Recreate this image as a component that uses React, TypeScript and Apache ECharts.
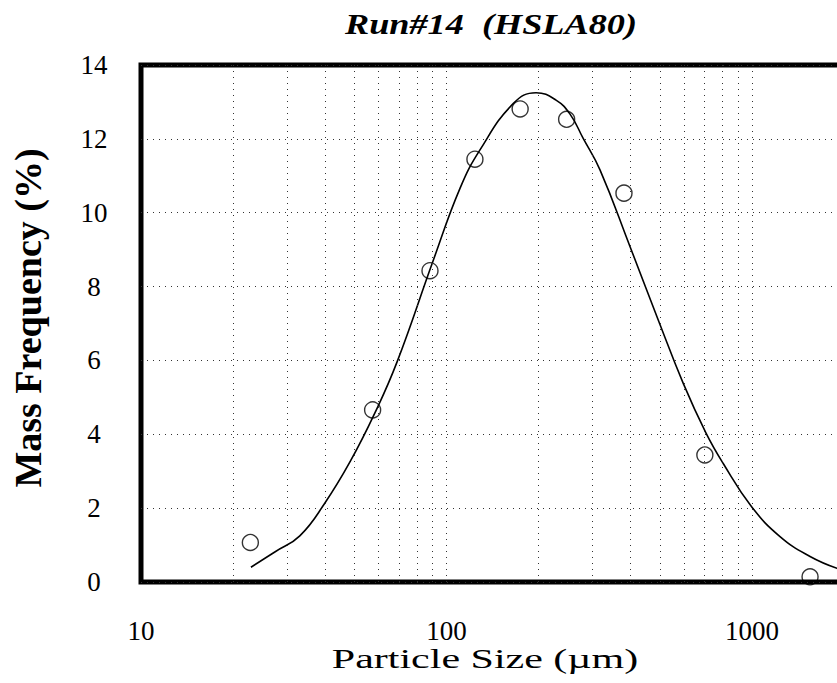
import React, { useEffect, useRef } from "react";
import * as echarts from "echarts";

// Fitted curve (particle size in µm, mass frequency in %)
const curveX = [22.9, 27.5, 33.1, 40.0, 48.3, 58.3, 68.9, 90.6, 110.7, 128.7, 165.6, 196.4, 228.3, 253.7, 279.9, 318.0, 398.9, 493.6, 595.6, 706.5, 805, 997, 1235, 1549, 1898, 2300];
const curveY = [0.4, 0.82, 1.25, 2.14, 3.25, 4.58, 5.96, 8.72, 10.66, 11.7, 12.96, 13.25, 13.05, 12.67, 12.02, 11.16, 9.08, 7.09, 5.38, 4.04, 3.21, 2.04, 1.23, 0.69, 0.37, 0.2];

// Measured points
const pointX = [22.8, 57.3, 88.3, 123.9, 174.2, 247.3, 381, 701, 1549];
const pointY = [1.07, 4.66, 8.43, 11.45, 12.81, 12.53, 10.53, 3.44, 0.14];

// Log grid lines
const gridX = [20, 30, 40, 50, 60, 70, 80, 90, 100, 200, 300, 400, 500, 600, 700, 800, 900, 1000, 2000, 3000];

const titleText = "Run#14  (HSLA80)";
const xTitle = "Particle Size (µm)";
const yTitle = "Mass Frequency (%)";

const FONT = "Liberation Serif";

export default function App() {
  const ref = useRef<HTMLDivElement>(null);
  useEffect(() => {
    if (!ref.current) return;
    const chart = echarts.init(ref.current, undefined, { renderer: "svg" });
    const dotted = { color: "#333", width: 1, type: [1, 5] as any };
    chart.setOption({
      animation: false,
      backgroundColor: "#fff",
      grid: {
        left: 141,
        top: 65,
        width: 916.5,
        height: 517,
        show: true,
        borderColor: "#000",
        borderWidth: 5,
        backgroundColor: "transparent",
      },
      xAxis: {
        type: "log",
        logBase: 10,
        min: 10,
        max: 10000,
        axisLine: { show: false },
        axisTick: { show: false },
        splitLine: { show: false },
        axisLabel: {
          fontFamily: FONT,
          fontSize: 27,
          color: "#000",
          margin: 35,
          showMaxLabel: false,
          formatter: (v: number) => String(Math.round(v)),
        },
      },
      yAxis: {
        type: "value",
        min: 0,
        max: 14,
        interval: 2,
        axisLine: { show: false },
        axisTick: { show: false },
        splitLine: { show: true, lineStyle: dotted },
        axisLabel: {
          fontFamily: FONT,
          fontSize: 27,
          color: "#000",
          margin: 47,
          align: "center",
        },
      },
      series: [
        {
          type: "line",
          data: curveX.map((x, i) => [x, curveY[i]]),
          smooth: 0.45,
          showSymbol: false,
          symbol: "none",
          lineStyle: { color: "#000", width: 1.6 },
          silent: true,
          z: 3,
          markLine: {
            silent: true,
            symbol: "none",
            label: { show: false },
            lineStyle: dotted,
            data: gridX.map((v) => ({ xAxis: v })),
          },
        },
        {
          type: "scatter",
          data: pointX.map((x, i) => [x, pointY[i]]),
          symbol: "circle",
          symbolSize: 16,
          itemStyle: { color: "transparent", borderColor: "#000", borderWidth: 1.4 },
          z: 4,
        },
      ],
      graphic: [
        {
          type: "text",
          x: 491,
          y: 24,
          scaleX: 1.25,
          style: {
            text: titleText,
            fontFamily: FONT,
            fontStyle: "italic",
            fontWeight: "bold",
            fontSize: 29,
            fill: "#000",
            textAlign: "center",
            textVerticalAlign: "middle",
          },
        },
        {
          type: "text",
          x: 485,
          y: 659,
          scaleX: 1.5,
          style: {
            text: xTitle,
            fontFamily: FONT,
            fontSize: 28,
            fill: "#000",
            textAlign: "center",
            textVerticalAlign: "middle",
          },
        },
        {
          type: "text",
          x: 28,
          y: 318,
          rotation: Math.PI / 2,
          style: {
            text: yTitle,
            fontFamily: FONT,
            fontWeight: "bold",
            fontSize: 38,
            fill: "#000",
            textAlign: "center",
            textVerticalAlign: "middle",
          },
        },
      ],
    });
    return () => chart.dispose();
  }, []);
  return (
    <div style={{ position: "fixed", left: 0, top: 0, width: 837, height: 683, overflow: "hidden", background: "#fff" }}>
      <div ref={ref} style={{ width: 1100, height: 683 }} />
    </div>
  );
}
